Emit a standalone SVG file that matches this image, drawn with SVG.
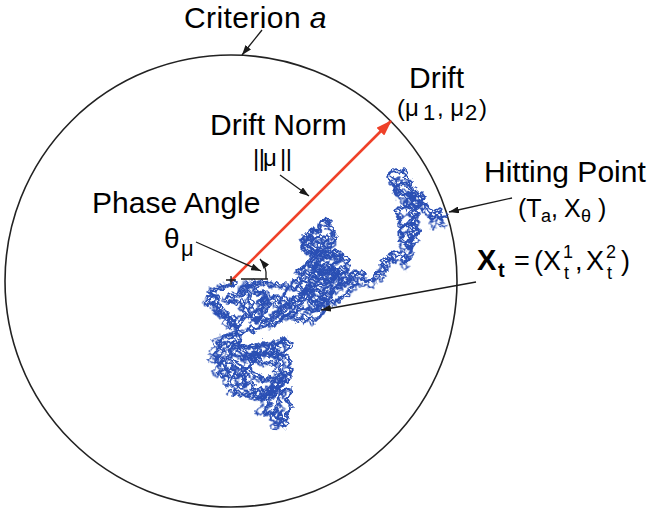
<svg xmlns="http://www.w3.org/2000/svg" xmlns:xlink="http://www.w3.org/1999/xlink" width="650" height="510" viewBox="0 0 650 510">
<style>
text{font-family:"Liberation Sans",Arial,Helvetica,sans-serif;fill:#000}
.lbl{font-size:30px}
.sm{font-size:24px}
.lead{stroke:#1a1a1a;stroke-width:1.3;fill:none}
.walk{fill:none;stroke:#2a4fb4;stroke-width:1.6;stroke-linejoin:round;stroke-linecap:round}
</style>
<defs>
<marker id="ah" markerUnits="userSpaceOnUse" markerWidth="10" markerHeight="7" refX="10" refY="3.5" orient="auto">
<path d="M0,0 L10,3.5 L0,7 Z" fill="#1a1a1a"/>
</marker>
<marker id="rh" markerUnits="userSpaceOnUse" markerWidth="16" markerHeight="11" refX="15" refY="5.5" orient="auto">
<path d="M0,0 L16,5.5 L0,11 Z" fill="#ef4129"/>
</marker>
<filter id="jit1" x="170" y="140" width="310" height="320" filterUnits="userSpaceOnUse">
<feTurbulence type="fractalNoise" baseFrequency="0.14" numOctaves="2" seed="3" result="n"/>
<feDisplacementMap in="SourceGraphic" in2="n" scale="7" xChannelSelector="R" yChannelSelector="G"/>
</filter>
<filter id="jit2" x="170" y="140" width="310" height="320" filterUnits="userSpaceOnUse">
<feTurbulence type="fractalNoise" baseFrequency="0.17" numOctaves="2" seed="11" result="n"/>
<feDisplacementMap in="SourceGraphic" in2="n" scale="7" xChannelSelector="G" yChannelSelector="B"/>
</filter>
<filter id="jit3" x="170" y="140" width="310" height="320" filterUnits="userSpaceOnUse">
<feTurbulence type="fractalNoise" baseFrequency="0.2" numOctaves="2" seed="27" result="n"/>
<feDisplacementMap in="SourceGraphic" in2="n" scale="8" xChannelSelector="B" yChannelSelector="R"/>
</filter>
<path id="wp" d="M231,281 234,285 230,288 226,285 223,290 219,287 216,292 212,290 209,294 213,297 208,300 205,304 209,307 213,304 217,308 214,312 218,315 222,311 226,314 223,318 227,321 231,317 235,320 232,324 236,328 240,325 238,320 242,317 246,320 249,316 245,312 241,309 244,305 240,302 236,305 232,301 228,304 225,300 229,296 233,298 237,294 241,297 244,293 240,289 244,286 248,289 252,285 256,288 253,292 257,295 261,292 265,295 262,299 258,302 262,306 266,303 270,306 267,310 263,313 259,310 255,313 252,317 256,321 260,318 264,322 268,319 272,322 276,318 273,314 277,311 281,314 285,311 282,307 286,304 290,307 294,304 291,300 295,297 299,300 303,297 300,293 304,290 308,293 312,296 309,300 313,304 317,301 320,305 316,309 312,312 308,309 304,312 300,309 297,313 293,316 289,313 285,317 281,320 277,324 273,327 269,324 265,328 261,325 257,329 253,332 249,328 245,332 241,335 237,332 233,336 229,339 225,336 221,340 217,343 220,347 216,351 213,355 217,358 214,362 218,365 222,362 226,365 223,369 227,372 231,369 235,372 232,376 236,379 240,376 244,379 241,383 245,386 249,383 253,386 250,390 254,393 258,390 262,393 259,397 263,400 267,397 271,394 268,390 272,387 276,390 280,387 277,383 281,380 285,383 289,380 286,376 282,373 278,370 282,366 278,362 274,365 270,362 266,365 262,362 258,359 254,362 250,359 246,356 242,359 238,356 234,353 238,349 242,346 246,349 250,346 254,349 258,346 262,343 266,346 270,343 274,346 278,343 282,340 286,343 290,346 287,350 283,353 279,356 275,353 271,356 267,353 263,356 259,353 255,356 251,353 247,356 243,352 239,349 235,345 231,348 227,351 231,355 227,358 231,362 235,365 239,368 243,372 247,369 251,372 255,375 259,378 263,381 267,378 271,381 275,378 279,375 283,378 280,382 276,386 272,390 275,394 271,398 267,401 270,405 266,408 262,411 265,415 269,412 273,415 276,411 280,414 277,418 281,421 278,425 282,428 286,426 283,422 287,419 284,415 288,412 291,408 287,404 284,400 288,397 291,393 287,389 283,392 279,396 276,400 279,404 275,407 272,411 275,415 279,418 282,422 285,425
M210,300 214,296 218,300 216,305 220,309 217,314 221,318 225,315 228,320 226,325 230,329 234,326 238,331 235,336 239,340 236,345 232,342 228,346 224,343 220,348 223,353 219,357 222,362 226,366 222,370 218,374 222,378 226,375 230,379 228,384 232,388 236,385 240,389 244,386 242,381 246,377 243,372 247,368 251,364 248,359 252,355 256,358 260,354 258,349 262,345 266,349 264,354 268,358 272,355 270,350 274,346 278,350 276,355 280,359 284,356 288,360 291,364 287,368 290,372 286,376 282,379 284,384 280,388 276,392 272,396 268,393 264,397 260,401 256,398 252,394 248,397 244,393 240,396 236,392 232,395
M244,283 248,287 246,292 250,296 248,301 252,305 250,310 254,314 252,319 256,323 260,320 262,315 260,310 264,306 262,301 266,297 270,300 274,296 278,300 276,305 280,309 278,314 282,318 286,315 290,319 294,316 298,320 302,317 306,321 310,318 314,322 318,318 322,314 326,310 322,306 318,310 314,306 310,302 306,298 302,302 298,306 294,310 290,306 286,302 282,298 284,293 288,289 284,285 280,288 276,284 272,287 268,283 264,286 260,282 256,285 252,281
M320,305 324,301 321,297 325,294 329,297 333,294 330,290 334,287 338,290 342,287 339,283 343,280 347,283 351,280 348,276 352,273 356,276 353,280 357,284 353,287 349,290 345,294 341,297 337,300 333,303 329,300 325,303 321,300 317,297 313,293 309,290 305,293 301,290 297,287 293,290 289,287 292,283 296,280 300,283 304,279 308,282 312,279 316,282 320,279 324,282 328,279 332,282 336,279 340,276 344,272 340,269 336,272 332,268 328,271 324,267 320,270 316,266 312,269 308,265 312,262 316,258 320,261 324,257 328,260 332,256 336,259 340,255 344,258 348,262 345,266 349,269 345,273 341,276 337,273 333,276 329,273 325,276 321,273 317,276 313,273 309,276 305,272 301,275 297,271 301,268 305,265 309,261 313,257 317,254 321,257 325,253 329,256 333,253 337,256 341,259 337,262 333,265 329,268 325,264 321,267 317,263 313,266 317,270 321,273 325,270 329,274 333,271 337,275 333,278 329,281 325,285 321,288 317,285 313,288 309,285 305,288 309,291 313,288 317,291 321,294 325,290 329,287 333,290 337,286 341,283 345,286
M313,257 309,253 305,250 301,247 304,243 300,240 303,236 307,239 311,236 308,232 312,229 316,232 320,229 317,225 321,222 325,219 329,222 326,226 330,229 334,232 331,236 335,239 332,243 328,246 324,249 320,246 316,243 313,240 317,237 321,240 325,237 328,241 324,244 320,248 316,251 312,248 308,245 312,241 309,237 305,241 302,245 306,248 310,251 314,254 318,251 322,254 326,251 330,254 334,251 338,254
M348,276 352,272 356,276 360,273 364,276 361,280 365,283 369,280 373,283 377,279 374,275 378,272 382,275 386,271 383,267 379,264 383,260 387,263 391,260 388,256 392,253 396,256 400,253 404,256 401,260 405,263 409,260 406,256 410,252 407,248 403,245 407,242 411,239 408,235 412,232 409,228 405,225 401,228 397,225 400,221 396,218 399,214 395,211 398,207 402,210 406,207 403,203 407,200 404,196 400,193 396,190 392,187 395,183 391,180 387,177 390,173 394,171 398,174 402,171 406,174 403,178 407,181 411,184 408,188 412,191 416,194 413,198 417,201 421,204 418,208 414,211 417,215 413,218 416,222 412,225 415,229 419,232 416,236 412,239 409,243 413,246 410,250 406,247 403,243 399,240 402,236 398,233 401,229 405,226 409,222 412,218 408,215 411,211 407,208 411,204 414,200 410,197 413,193 409,189 405,186 401,183 397,186 394,190 397,194 401,197 405,194 409,197 412,201 416,198 420,195 423,199 420,203 424,206 427,210 431,213 428,217 432,220 436,217 433,213 437,210 441,213 438,217 442,220 446,216"/>
</defs>

<g id="criterion">
<circle cx="231" cy="281" r="226" fill="none" stroke="#222" stroke-width="1.6"/>
<text class="lbl" x="184" y="28" letter-spacing="0.4">Criterion <tspan font-style="italic">a</tspan></text>
</g>

<g id="walk">
<use xlink:href="#wp" class="walk" filter="url(#jit1)"/>
<use xlink:href="#wp" class="walk" filter="url(#jit2)" transform="translate(2,-2)"/>
<use xlink:href="#wp" class="walk" filter="url(#jit3)" transform="rotate(2.5 300 300) translate(-2,2)"/>
</g>

<g id="drift">
<text class="lbl" x="409" y="88">Drift</text>
<text class="sm" y="116"><tspan x="397">(μ</tspan><tspan x="423" dy="4" font-size="22">1</tspan><tspan x="437" dy="-4">, μ</tspan><tspan x="465" dy="4" font-size="22">2</tspan><tspan x="479" dy="-4">)</tspan></text>
</g>

<g id="drift-norm">
<text class="lbl" x="210" y="135">Drift Norm</text>
<text class="sm" y="166"><tspan x="253" letter-spacing="-0.5">||</tspan><tspan x="263">μ</tspan><tspan x="280" letter-spacing="-0.5">||</tspan></text>
</g>

<g id="phase-angle">
<text class="lbl" x="92" y="213">Phase Angle</text>
<text font-size="28" x="164" y="248">θ</text>
<text font-size="22" x="181" y="256">μ</text>
</g>

<g id="hitting-point">
<text class="lbl" x="484" y="182">Hitting Point</text>
<text font-size="25" y="217"><tspan x="518">(T</tspan><tspan x="541" dy="5" font-size="18">a</tspan><tspan x="551" dy="-5">,</tspan><tspan x="564">X</tspan><tspan x="581" dy="5" font-size="18">θ</tspan><tspan x="598" dy="-5">)</tspan></text>
</g>

<g id="xt">
<text font-size="29" font-weight="bold" x="477" y="270">X</text>
<text font-size="20" font-weight="bold" x="498" y="277">t</text>
<text font-size="27" x="514" y="270">=</text>
<text font-size="27" x="534" y="270">(X</text>
<text font-size="18" x="563" y="258">1</text>
<text font-size="18" x="564" y="279">t</text>
<text font-size="27" x="575" y="270">,</text>
<text font-size="27" x="586" y="270">X</text>
<text font-size="18" x="606" y="258">2</text>
<text font-size="18" x="607" y="279">t</text>
<text font-size="27" x="621" y="270">)</text>
</g>

<g id="connectors">
<line x1="231" y1="281" x2="391" y2="121" stroke="#ef4129" stroke-width="2.6" marker-end="url(#rh)"/>
<path d="M226,280 H236 M231,276 V285" stroke="#1a1a1a" stroke-width="1.3"/>
<path d="M241,279 H268 M266,279 V272" class="lead"/>
<path d="M266,272 Q265,265 260,259" class="lead" marker-end="url(#ah)"/>
<line x1="262" y1="30" x2="242" y2="55" class="lead" marker-end="url(#ah)"/>
<line x1="280" y1="175" x2="309" y2="196" class="lead" marker-end="url(#ah)"/>
<line x1="196" y1="242" x2="261" y2="271" class="lead" marker-end="url(#ah)"/>
<line x1="512" y1="198" x2="449" y2="212" class="lead" marker-end="url(#ah)"/>
<line x1="476" y1="282" x2="321" y2="310" class="lead" marker-end="url(#ah)"/>
</g>
</svg>
